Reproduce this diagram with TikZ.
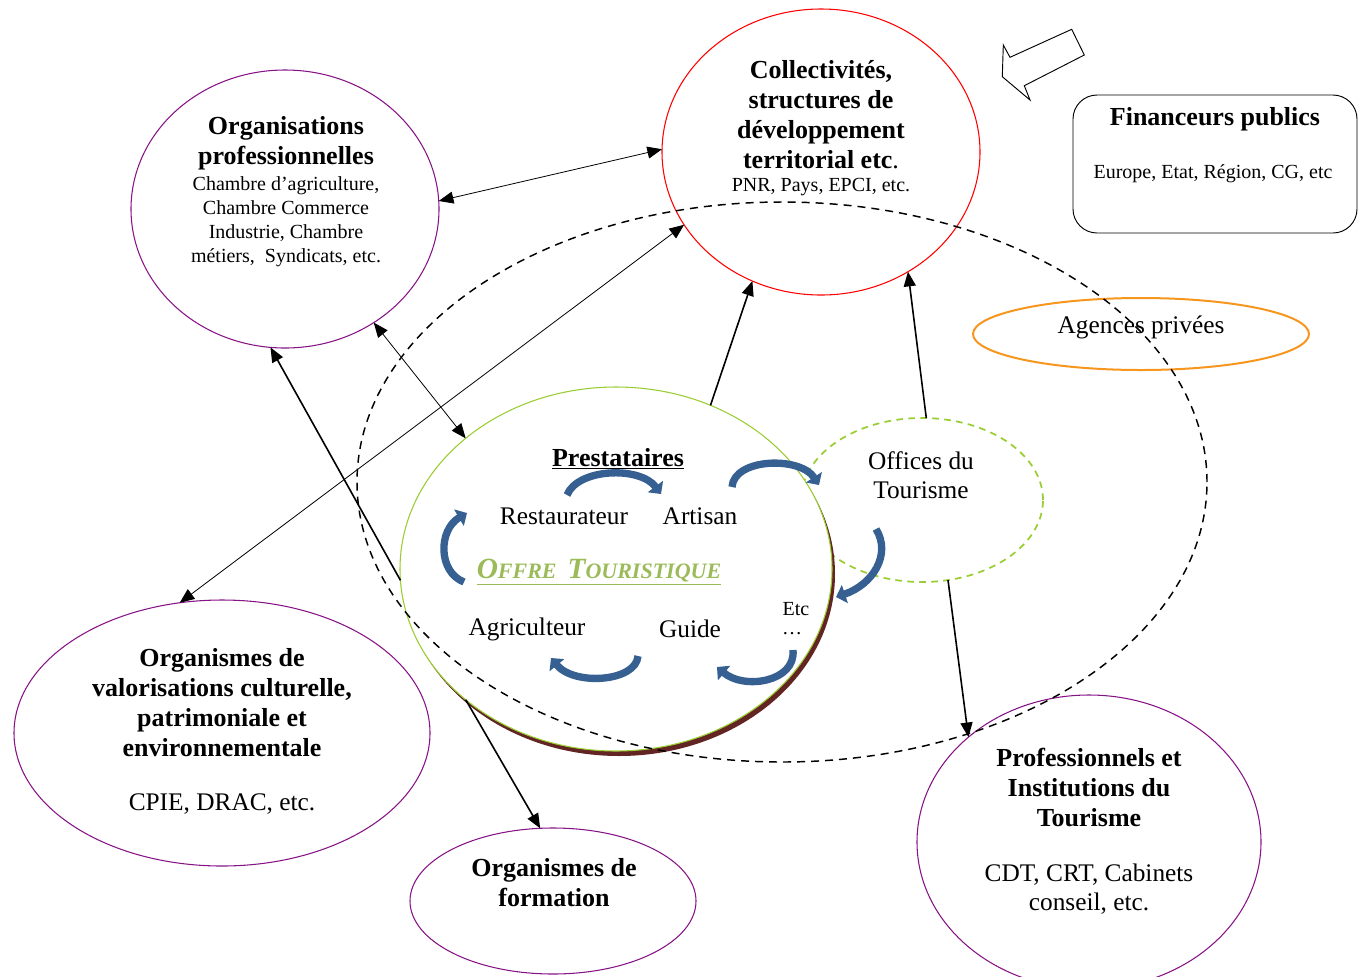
\documentclass[tikz,border=0pt]{standalone}
\usepackage{fontspec}
\setmainfont{Liberation Serif}
\usetikzlibrary{shapes.geometric,arrows.meta}
\definecolor{purpC}{RGB}{135,20,135}
\definecolor{orangeC}{RGB}{247,150,30}
\definecolor{greenC}{RGB}{154,205,50}
\definecolor{offreC}{RGB}{155,187,89}
\definecolor{blueA}{RGB}{55,96,146}
\definecolor{brownC}{RGB}{99,37,35}
\begin{document}
\begin{tikzpicture}[x=0.75pt,y=-0.75pt,
  ell/.style={ellipse, inner sep=0pt, outer sep=0pt},
  purp/.style={ell, draw=purpC, line width=0.8pt},
  arr/.style={-{Triangle[length=11pt,width=9pt]}},
  darr/.style={{Triangle[length=11pt,width=9pt]}-{Triangle[length=11pt,width=9pt]}},
  bluearr/.style={draw=blueA, line width=5.5pt, -{Triangle[length=7pt,width=14pt]}},
  btxt/.style={align=center, font=\fontsize{19.5}{22.5}\selectfont\bfseries, inner sep=0pt},
  stxt/.style={align=center, font=\fontsize{15}{18}\selectfont, inner sep=0pt},
  ltxt/.style={align=center, font=\fontsize{19}{22}\selectfont, inner sep=0pt}]
\useasboundingbox (0,0) rectangle (1365,976);

% block arrow and financeurs box
\draw[fill=white, line width=0.7pt] (1003.3,45) -- (1010,57.3) -- (1071.7,29.3) -- (1084.3,55) -- (1024.3,85.7) -- (1030,100) -- (1002.3,76.7) -- cycle;
\node[draw, rounded corners=18pt, minimum width=213pt, minimum height=103.5pt, line width=0.7pt, inner sep=0pt] (fin) at (1215,164) {};
\node[btxt] (fintitle) at (1215,119) {Financeurs publics};
\node[stxt] (finsub) at (1213,174) {Europe, Etat, Région, CG, etc};

% ellipses
\node[purp, minimum width=231pt, minimum height=208.5pt] (orgpro) at (285,209) {};
\node[ell, draw=red, line width=0.8pt, minimum width=238.5pt, minimum height=214.5pt] (coll) at (821,152) {};
\node[purp, minimum width=312pt, minimum height=199.5pt] (valo) at (222,733) {};
\node[purp, minimum width=214.5pt, minimum height=109.5pt] (form) at (553,901) {};
\node[purp, minimum width=258pt, minimum height=220.5pt] (prof) at (1089,842) {};
\node[ell, draw=orangeC, line width=1.5pt, minimum width=252pt, minimum height=54pt] (agences) at (1141,334) {};
\node[ltxt] (agtxt) at (1141,327) {Agences privées};

% offices du tourisme
\node[ell, draw=greenC, line width=1.3pt, dash pattern=on 5pt off 4pt, minimum width=181.5pt, minimum height=123pt] (offices) at (922,500) {};

% prestataires circle with shadow
\node[ell, fill=brownC, minimum width=324pt, minimum height=273pt] (prshadow) at (619,574) {};
\node[ell, draw=greenC, fill=white, line width=0.8pt, minimum width=324pt, minimum height=273pt] (presta) at (616,569) {};

% big dashed zone
\node[ell, draw=black, line width=1.1pt, dash pattern=on 6pt off 4.5pt, minimum width=637.5pt, minimum height=420pt] (zone) at (782,482) {};

% texts
\node[btxt] (orgtitle) at (286,143) {Organisations\\professionnelles};
\node[stxt] (orgsub) at (286,222) {Chambre d’agriculture,\\Chambre Commerce\\Industrie, Chambre\\métiers,~ Syndicats, etc.};
\node[btxt] (colltitle) at (821,115) {Collectivités,\\structures de\\développement\\territorial etc\textmd{.}};
\node[stxt] (collsub) at (821,187) {PNR, Pays, EPCI, etc.};
\node[ltxt] (offtxt) at (921,475.5) {Offices du\\Tourisme};
\node[btxt] (valotitle) at (222,703) {Organismes de\\valorisations culturelle,\\patrimoniale et\\environnementale};
\node[ltxt] (valosub) at (222,804) {CPIE, DRAC, etc.};
\node[btxt] (formtitle) at (554,883) {Organismes de\\formation};
\node[btxt] (proftitle) at (1089,787) {Professionnels et\\Institutions du\\Tourisme};
\node[ltxt] (profsub) at (1089,889) {CDT, CRT, Cabinets\\conseil, etc.};

\node[btxt] (prestitle) at (618,459) {\underline{Prestataires}};
\node[ltxt] (resto) at (564,516) {Restaurateur};
\node[ltxt] (artisan) at (700,516) {Artisan};
\node[inner sep=0pt, text=offreC, font=\bfseries\itshape] (offre) at (599,572) {\underline{\fontsize{22}{24}\selectfont O\fontsize{16.5}{20}\selectfont FFRE\ \ \fontsize{22}{24}\selectfont T\fontsize{16.5}{20}\selectfont OURISTIQUE}};
\node[ltxt] (agri) at (527,629) {Agriculteur};
\node[ltxt] (guide) at (690,629) {Guide};
\node[stxt] (etc) at (796,609) {Etc};
\node[stxt] (dots) at (792,634) {\dots};

% blue circulation arrows
\draw[bluearr] (567,495) .. controls (578,468) and (640,466) .. (661,494);
\draw[bluearr] (732,487) .. controls (734,458) and (800,456) .. (819,485);
\draw[bluearr] (876,529) .. controls (892,555) and (872,585) .. (836,597);
\draw[bluearr] (464,582) .. controls (438,572) and (438,530) .. (467,513);
\draw[bluearr] (638,656) .. controls (636,682) and (574,686) .. (551,658);
\draw[bluearr] (793,650) .. controls (796,682) and (744,690) .. (717,667);

% connectors
\draw[darr, line width=0.6pt] (orgpro.3.4) -- (coll.179);
\draw[darr, line width=0.6pt] (orgpro.-52.2) -- (presta.139.6);
\draw[arr, line width=1.2pt] (presta.183) -- (orgpro.264.7);
\draw[darr, line width=0.6pt] (valo.108.3) -- (coll.208);
\draw[arr, line width=1.2pt] (presta.60.7) -- (coll.242.5);
\draw[arr, line width=1.2pt] (offices.87) -- (coll.-54.1);
\draw[arr, line width=1.2pt] (offices.-72.4) -- (prof.139.3);
\draw[arr, line width=1.2pt] (presta.221.5) -- (form.100);
\end{tikzpicture}
\end{document}
